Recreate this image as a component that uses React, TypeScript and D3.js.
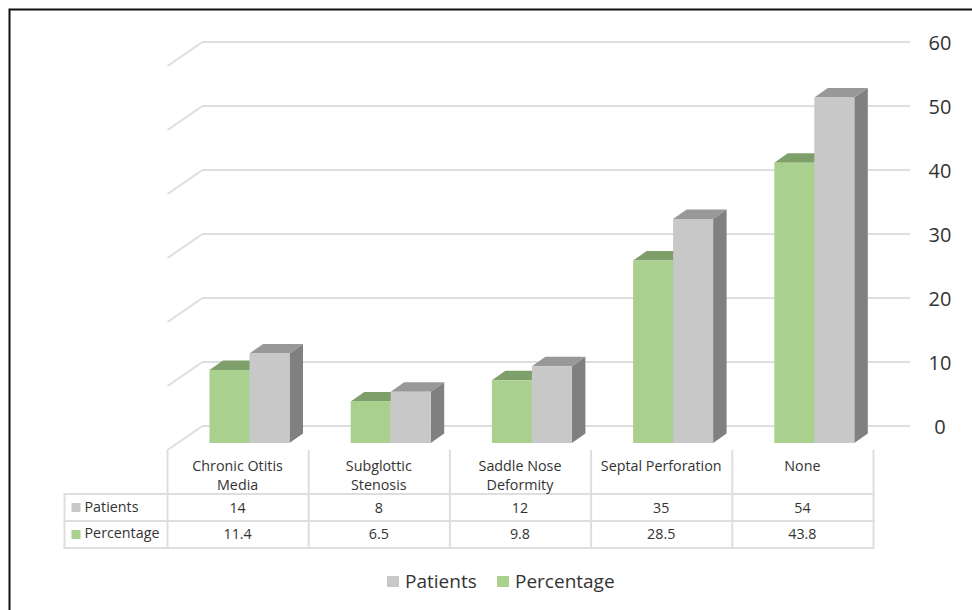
import React from "react";
import * as d3 from "d3";

const categories = ["Chronic Otitis Media", "Subglottic Stenosis", "Saddle Nose Deformity", "Septal Perforation", "None"];
const categoryLines = [["Chronic Otitis", "Media"], ["Subglottic", "Stenosis"], ["Saddle Nose", "Deformity"], ["Septal Perforation"], ["None"]];
const patients = [14, 8, 12, 35, 54];
const percentage = [11.4, 6.5, 9.8, 28.5, 43.8];
const percentageLabels = ["11.4", "6.5", "9.8", "28.5", "43.8"];
const axisTicks = [0, 10, 20, 30, 40, 50, 60];
const seriesNames = ["Patients", "Percentage"];

const GRAY = "#c8c8c8";
const GRAY_TOP = "#989898";
const GRAY_SIDE = "#808080";
const GREEN = "#aad08e";
const GREEN_TOP = "#7f9f6a";
const GRID = "#dedede";
const TEXT = "#333333";
const FONT = "'Open Sans', 'Noto Sans', sans-serif";

// Wall sits behind the floor edge; bars stand part way into the floor.
const yWall = d3.scaleLinear().domain([0, 60]).range([426, 42]);
const FLOOR_DX = 35;
const FLOOR_DY = 24;
const BAR_FRONT_DY = 17;
const BAR_DX = 13.5;
const BAR_DY = 9.5;

const xCat = d3.scaleBand<string>().domain(categories).range([167.5, 873.5]);
const xSeries = d3.scaleBand<string>().domain(["Percentage", "Patients"]).range([42, 122]);

const tableRows = [494, 521, 548];
const tableLeft = 64.5;
const tableTop = 450;
const tableRight = 873.5;

function Bar3D({ x, w, value, front, top, side }: { x: number; w: number; value: number; front: string; top: string; side: string }) {
  const yb = yWall(0) + BAR_FRONT_DY;
  const yt = yWall(value) + BAR_FRONT_DY;
  return (
    <g>
      <polygon points={`${x + w},${yt} ${x + w + BAR_DX},${yt - BAR_DY} ${x + w + BAR_DX},${yb - BAR_DY} ${x + w},${yb}`} fill={side} />
      <polygon points={`${x},${yt} ${x + BAR_DX},${yt - BAR_DY} ${x + w + BAR_DX},${yt - BAR_DY} ${x + w},${yt}`} fill={top} />
      <rect x={x} y={yt} width={w} height={yb - yt} fill={front} />
    </g>
  );
}

export default function App() {
  const w = xSeries.bandwidth();
  return (
    <svg width={972} height={610} style={{ position: "absolute", left: 0, top: 0, background: "#fff" }} fontFamily={FONT}>
      {/* frame, open on the right and bottom */}
      <path d="M9.5 610 V9.5 H972" fill="none" stroke="#111" strokeWidth={2} />

      {/* wall gridlines and their floor-side stubs */}
      {axisTicks.map((t) => (
        <g key={t}>
          <path
            d={`M${167.5} ${yWall(t) + FLOOR_DY} L${167.5 + FLOOR_DX} ${yWall(t)} H910`}
            fill="none"
            stroke={GRID}
            strokeWidth={2}
          />
          <text x={940} y={yWall(t) + 8} fontSize={20} textAnchor="middle" fill={TEXT}>
            {t}
          </text>
        </g>
      ))}

      {/* paired bars: green first so the gray bar overlaps its top edge */}
      {categories.map((c, i) => {
        const x0 = xCat(c)!;
        return (
          <g key={c}>
            <Bar3D x={x0 + xSeries("Percentage")!} w={w} value={percentage[i]} front={GREEN} top={GREEN_TOP} side={GREEN_TOP} />
            <Bar3D x={x0 + xSeries("Patients")!} w={w} value={patients[i]} front={GRAY} top={GRAY_TOP} side={GRAY_SIDE} />
          </g>
        );
      })}

      {/* data table */}
      <g stroke={GRID} strokeWidth={2} fill="none">
        {categories.map((c) => (
          <line key={c} x1={xCat(c)!} x2={xCat(c)!} y1={tableTop} y2={tableRows[2]} />
        ))}
        <line x1={tableRight} x2={tableRight} y1={tableTop} y2={tableRows[2]} />
        <line x1={tableLeft} x2={tableLeft} y1={tableRows[0]} y2={tableRows[2]} />
        {tableRows.map((y) => (
          <line key={y} x1={tableLeft - 1} x2={tableRight + 1} y1={y} y2={y} />
        ))}
      </g>

      <g fontSize={14.3} fill={TEXT} textAnchor="middle">
        {categories.map((c, i) => {
          const cx = xCat(c)! + xCat.bandwidth() / 2 - 0.5;
          return (
            <g key={c}>
              {categoryLines[i].map((line, k) => (
                <text key={line} x={cx} y={471 + k * 19}>
                  {line}
                </text>
              ))}
              <text x={cx} y={513}>{patients[i]}</text>
              <text x={cx} y={539}>{percentageLabels[i]}</text>
            </g>
          );
        })}
      </g>

      {/* row headers with series keys */}
      <rect x={71.5} y={503} width={9} height={9} fill={GRAY} />
      <text x={84.5} y={512} fontSize={14.3} fill={TEXT}>{seriesNames[0]}</text>
      <rect x={71.5} y={530} width={9} height={9} fill={GREEN} />
      <text x={84.5} y={538} fontSize={14.3} fill={TEXT}>{seriesNames[1]}</text>

      {/* legend */}
      <rect x={387} y={576} width={12} height={11} fill={GRAY} />
      <text x={405} y={588} fontSize={19} fill={TEXT}>{seriesNames[0]}</text>
      <rect x={497} y={576} width={12} height={11} fill={GREEN} />
      <text x={515} y={588} fontSize={19} fill={TEXT}>{seriesNames[1]}</text>
    </svg>
  );
}
